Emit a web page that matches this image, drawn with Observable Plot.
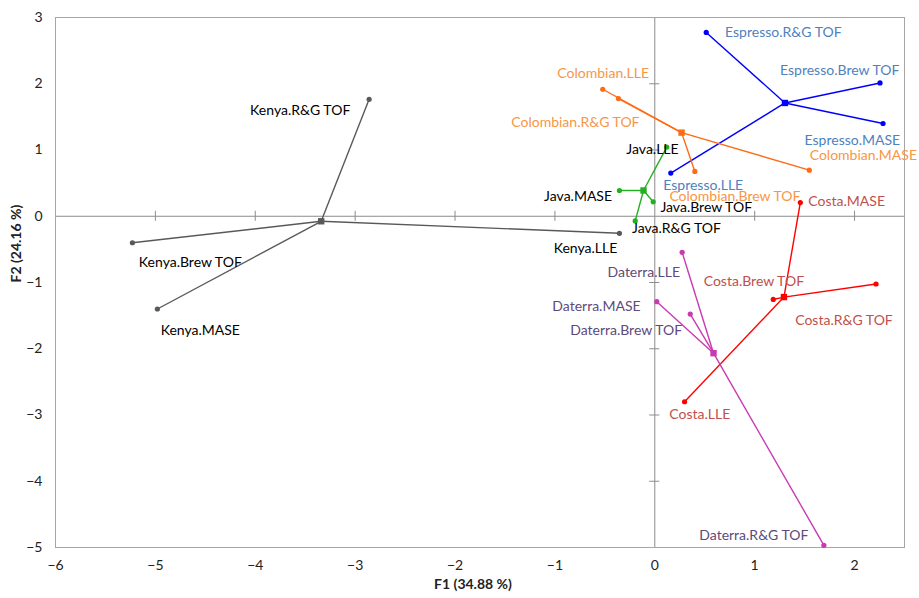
<!DOCTYPE html>
<html><head><meta charset="utf-8">
<script src="https://cdn.jsdelivr.net/npm/d3@7"></script>
<script src="https://cdn.jsdelivr.net/npm/@observablehq/plot@0.6"></script>
<style>body{margin:0;background:#fff}</style>
</head><body><div id="chart"></div>
<script>
const groups = ["Kenya", "Espresso", "Colombian", "Java", "Costa", "Daterra"];
const variables = ["R&G TOF", "Brew TOF", "MASE", "LLE"];
const centerF1 = [-3.34, 1.303, 0.268, -0.113, 1.293, 0.588];
const centerF2 = [-0.076, 1.71, 1.262, 0.389, -1.22, -2.067];

// point coordinates, in variable order
const kenyaF1 = [-2.86, -5.23, -4.98, -0.354];
const kenyaF2 = [1.765, -0.40, -1.40, -0.257];
const espressoF1 = [0.515, 2.255, 2.285, 0.160];
const espressoF2 = [2.775, 2.012, 1.40, 0.651];
const colombianF1 = [-0.364, 0.401, 1.547, -0.521];
const colombianF2 = [1.776, 0.676, 0.696, 1.917];
const javaF1 = [-0.196, -0.016, -0.354, 0.120];
const javaF2 = [-0.07, 0.218, 0.389, 1.044];
const costaF1 = [2.215, 1.186, 1.457, 0.298];
const costaF2 = [-1.023, -1.256, 0.207, -2.80];
const daterraF1 = [1.693, 0.355, 0.020, 0.274];
const daterraF2 = [-4.967, -1.477, -1.29, -0.545];

// label anchor positions (data units), in variable order
const kenyaLabF1 = [-3.55, -4.65, -4.55, -0.694];
const kenyaLabF2 = [1.60, -0.696, -1.729, -0.489];
const espressoLabF1 = [1.287, 1.851, 1.978, 0.485];
const espressoLabF2 = [2.775, 2.20, 1.145, 0.464];
const colombianLabF1 = [-0.795, 0.802, 2.088, -0.517];
const colombianLabF2 = [1.413, 0.298, 0.918, 2.148];
const javaLabF1 = [0.217, 0.515, -0.768, -0.023];
const javaLabF2 = [-0.182, 0.127, 0.303, 1.009];
const costaLabF1 = [1.894, 0.992, 1.921, 0.451];
const costaLabF2 = [-1.578, -0.988, 0.222, -3.0];
const daterraLabF1 = [0.992, -0.287, -0.584, -0.110];
const daterraLabF2 = [-4.815, -1.719, -1.362, -0.847];

const xTicks = [-6, -5, -4, -3, -2, -1, 0, 1, 2];
const yTicks = [-5, -4, -3, -2, -1, 0, 1, 2, 3];
const xAxisTickMarks = [-5, -4, -3, -2, -1, 1, 2];
const yAxisTickMarks = [-4, -3, -2, -1, 1, 2];

const lineColors = ["#595959", "#0000FF", "#FF6A13", "#22B022", "#FF0000", "#C93AB2"];
const labelColors = ["#000000", "#4F81BD", "#F79646", "#000000", "#C0504D", "#604A7B"];

const pts = [[kenyaF1, kenyaF2], [espressoF1, espressoF2], [colombianF1, colombianF2],
             [javaF1, javaF2], [costaF1, costaF2], [daterraF1, daterraF2]];
const labs = [[kenyaLabF1, kenyaLabF2], [espressoLabF1, espressoLabF2], [colombianLabF1, colombianLabF2],
              [javaLabF1, javaLabF2], [costaLabF1, costaLabF2], [daterraLabF1, daterraLabF2]];

const rows = [];
groups.forEach((g, gi) => {
  variables.forEach((v, vi) => {
    rows.push({
      group: g, gi, name: g + "." + v,
      cx: centerF1[gi], cy: centerF2[gi],
      x: pts[gi][0][vi], y: pts[gi][1][vi],
      lx: labs[gi][0][vi], ly: labs[gi][1][vi]
    });
  });
});
const centers = groups.map((g, gi) => ({group: g, gi, x: centerF1[gi], y: centerF2[gi]}));

const chart = Plot.plot({
  width: 919,
  height: 598,
  marginLeft: 55,
  marginRight: 15,
  marginTop: 17,
  marginBottom: 51,
  style: {fontFamily: "Lato, 'Open Sans', sans-serif", fontSize: "14px", background: "#fff"},
  x: {domain: [-6, 2.5]},
  y: {domain: [-5, 3]},
  marks: [
    Plot.ruleX([0], {stroke: "#8C8C8C", strokeWidth: 1}),
    Plot.ruleY([0], {stroke: "#8C8C8C", strokeWidth: 1}),
    Plot.ruleX(xAxisTickMarks, {x: d => d, y1: 0, y2: 0, insetTop: -5, insetBottom: -5, stroke: "#8C8C8C"}),
    Plot.ruleY(yAxisTickMarks, {y: d => d, x1: 0, x2: 0, insetLeft: -5, insetRight: -5, stroke: "#8C8C8C"}),
    Plot.frame({stroke: "#A6A6A6", strokeWidth: 1}),
    Plot.axisX({ticks: xTicks, tickSize: 0, tickPadding: 13, fontSize: 14, color: "#222", label: null}),
    Plot.axisY({ticks: yTicks, tickSize: 0, tickPadding: 13, fontSize: 14, color: "#222", label: null}),
    Plot.link(rows, {x1: "cx", y1: "cy", x2: "x", y2: "y", stroke: d => lineColors[d.gi], strokeWidth: 1.4}),
    Plot.dot(rows, {x: "x", y: "y", r: 2.6, fill: d => lineColors[d.gi], stroke: "none"}),
    Plot.dot(centers, {x: "x", y: "y", symbol: "square", r: 3.6, fill: d => lineColors[d.gi], stroke: "none"}),
    Plot.text(rows, {x: "lx", y: "ly", text: "name", fill: d => labelColors[d.gi], fontSize: 14, textAnchor: "middle"}),
    Plot.text(["F1 (34.88 %)"], {frameAnchor: "bottom", dy: 41, dx: -7, text: d => d, fontWeight: "bold", fontSize: 14, fill: "#222"}),
    Plot.text(["F2 (24.16 %)"], {frameAnchor: "left", dx: -39, rotate: -90, text: d => d, fontWeight: "bold", fontSize: 14, fill: "#222"})
  ]
});
document.getElementById("chart").appendChild(chart);
</script>
</body></html>
